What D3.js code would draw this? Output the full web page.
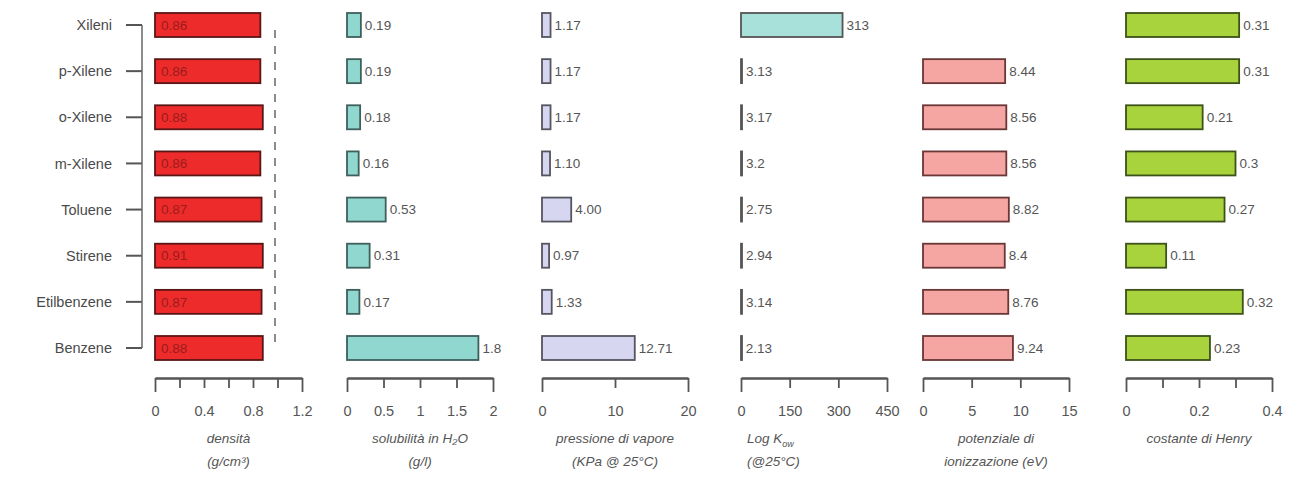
<!DOCTYPE html>
<html><head><meta charset="utf-8">
<script src="https://cdn.jsdelivr.net/npm/d3@7"></script>
<style>
body{margin:0;background:#fff;}
text{font-family:"Liberation Sans",Arial,sans-serif;}
</style></head>
<body><svg id="c" width="1297" height="477"></svg>
<script>
const categories = ["Xileni","p-Xilene","o-Xilene","m-Xilene","Toluene","Stirene","Etilbenzene","Benzene"];
const density = [0.86,0.86,0.88,0.86,0.87,0.88,0.87,0.88];
const densityLabels = ["0.86","0.86","0.88","0.86","0.87","0.91","0.87","0.88"];
const solubility = [0.19,0.19,0.18,0.16,0.53,0.31,0.17,1.8];
const solubilityLabels = ["0.19","0.19","0.18","0.16","0.53","0.31","0.17","1.8"];
const vapor = [1.17,1.17,1.17,1.10,4.00,0.97,1.33,12.71];
const vaporLabels = ["1.17","1.17","1.17","1.10","4.00","0.97","1.33","12.71"];
const logKow = [313,3.13,3.17,3.2,2.75,2.94,3.14,2.13];
const logKowLabels = ["313","3.13","3.17","3.2","2.75","2.94","3.14","2.13"];
const ionization = [null,8.44,8.56,8.56,8.82,8.4,8.76,9.24];
const ionizationLabels = ["","8.44","8.56","8.56","8.82","8.4","8.76","9.24"];
const henry = [0.31,0.31,0.21,0.3,0.27,0.11,0.32,0.23];
const henryLabels = ["0.31","0.31","0.21","0.3","0.27","0.11","0.32","0.23"];

const densityTicks = [0,0.2,0.4,0.6,0.8,1.0,1.2];
const densityTickLabels = ["0","","0.4","","0.8","","1.2"];
const solubilityTicks = [0,0.5,1,1.5,2];
const solubilityTickLabels = ["0","0.5","1","1.5","2"];
const vaporTicks = [0,10,20];
const vaporTickLabels = ["0","10","20"];
const logKowTicks = [0,150,300,450];
const logKowTickLabels = ["0","150","300","450"];
const ionizationTicks = [0,5,10,15];
const ionizationTickLabels = ["0","5","10","15"];
const henryTicks = [0,0.1,0.2,0.3,0.4];
const henryTickLabels = ["0","","0.2","","0.4"];

const svg = d3.select("#c");
const y = d3.scalePoint().domain(categories).range([25, 348]);
const barH = 24;
const axisY = 378;

// category labels + bracket
const cat = svg.append("g");
cat.selectAll("text.cat").data(categories).join("text")
  .attr("x", 112).attr("y", d => y(d)).attr("dy","0.35em")
  .attr("text-anchor","end").attr("font-size",14.5).attr("fill","#4a4a4a").text(d=>d);
cat.selectAll("line.tk").data(categories).join("line")
  .attr("x1",126).attr("x2",142).attr("y1",d=>y(d)).attr("y2",d=>y(d))
  .attr("stroke","#555").attr("stroke-width",2);
cat.append("line").attr("x1",142).attr("x2",142).attr("y1",y(categories[0])).attr("y2",y(categories[7]))
  .attr("stroke","#666").attr("stroke-width",1.5);

const panels = [
  {vals:density, labs:densityLabels, dom:[0,1.2], r:[155,302], ticks:densityTicks, tl:densityTickLabels,
   fill:"#ee2b2b", stroke:"#5a1616", inside:true, t1:"densità", t2:"(g/cm³)"},
  {vals:solubility, labs:solubilityLabels, dom:[0,2], r:[347,493], ticks:solubilityTicks, tl:solubilityTickLabels,
   fill:"#8fd7cf", stroke:"#3e5f5c", t1:"solubilità in H₂O", t2:"(g/l)"},
  {vals:vapor, labs:vaporLabels, dom:[0,20], r:[542,688], ticks:vaporTicks, tl:vaporTickLabels,
   fill:"#d6d6f0", stroke:"#555560", t1:"pressione di vapore", t2:"(KPa @ 25°C)"},
  {vals:logKow, labs:logKowLabels, dom:[0,450], r:[741,887], ticks:logKowTicks, tl:logKowTickLabels,
   fill:"#a8e0da", stroke:"#555", t1:"Log K_ow", t2:"(@25°C)", kow:true},
  {vals:ionization, labs:ionizationLabels, dom:[0,15], r:[923,1069], ticks:ionizationTicks, tl:ionizationTickLabels,
   fill:"#f5a5a2", stroke:"#6a3636", t1:"potenziale di", t2:"ionizzazione (eV)"},
  {vals:henry, labs:henryLabels, dom:[0,0.4], r:[1126,1272], ticks:henryTicks, tl:henryTickLabels,
   fill:"#a9d33d", stroke:"#3c5218", t1:"costante di Henry", t2:""}
];

panels.forEach(p => {
  const x = d3.scaleLinear().domain(p.dom).range(p.r);
  const g = svg.append("g");
  const data = categories.map((c,i)=>({c, v:p.vals[i], l:p.labs[i]})).filter(d=>d.v!=null);
  g.selectAll("rect").data(data).join("rect")
    .attr("x", x(0)).attr("y", d=>y(d.c)-barH/2)
    .attr("width", d=>Math.max(1, x(d.v)-x(0))).attr("height", barH)
    .attr("fill", p.fill).attr("stroke", p.stroke).attr("stroke-width", 1.8);
  g.selectAll("text.v").data(data).join("text")
    .attr("x", d => p.inside ? x(0)+6 : x(d.v)+4)
    .attr("y", d=>y(d.c)).attr("dy","0.35em")
    .attr("font-size",13.5).attr("fill", p.inside ? "#9a1c1c" : "#555").text(d=>d.l);
  // axis
  const ax = d3.axisBottom(x).tickValues(p.ticks).tickSize(0).tickFormat((d,i)=>p.tl[i]);
  const a = g.append("g").attr("transform",`translate(0,${axisY})`).call(ax);
  a.select(".domain").attr("stroke","#555").attr("stroke-width",2.5);
  a.selectAll(".tick line").remove();
  a.selectAll(".tick").append("line").attr("y1",0)
    .attr("y2",(d,i)=> (i===0||i===p.ticks.length-1) ? 14 : 10)
    .attr("stroke","#555").attr("stroke-width",1.8);
  a.selectAll(".tick text").attr("y",33).attr("dy","0.35em")
    .attr("font-size",14.5).attr("fill","#555").attr("font-family","Liberation Sans, Arial, sans-serif");
  const cx = (p.r[0]+p.r[1])/2;
  const t1 = g.append("text").attr("x",cx).attr("y",438).attr("dy","0.35em").attr("text-anchor","middle")
    .attr("font-size",13.5).attr("font-style","italic").attr("fill","#555");
  if (p.kow) {
    t1.attr("x", p.r[0]+6).attr("text-anchor","start");
    t1.append("tspan").text("Log K");
    t1.append("tspan").attr("font-size",9).attr("dy","4").text("ow");
  } else t1.text(p.t1);
  g.append("text").attr("x", p.kow ? p.r[0]+6 : cx).attr("y",461).attr("dy","0.35em")
    .attr("text-anchor", p.kow ? "start" : "middle")
    .attr("font-size",13.5).attr("font-style","italic").attr("fill","#555").text(p.t2);
});

// dashed reference line in density panel
svg.append("line").attr("x1",275).attr("x2",275).attr("y1",30).attr("y2",348)
  .attr("stroke","#666").attr("stroke-width",1.5).attr("stroke-dasharray","8,8");
</script></body></html>
